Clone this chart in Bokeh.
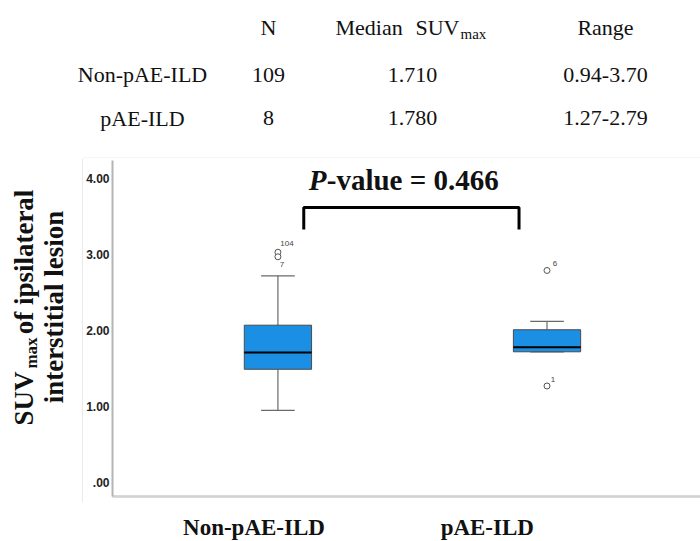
import math
from bokeh.plotting import figure
from bokeh.layouts import column, row
from bokeh.models import Range1d, FixedTicker, Label, LinearAxis, ColumnDataSource
from bokeh.embed import file_html
from bokeh.resources import INLINE

# ---------------- data ----------------
groups = ["Non-pAE-ILD", "pAE-ILD"]
n_counts = [109, 8]
median_suv = [1.710, 1.780]
range_min = [0.94, 1.27]
range_max = [3.70, 2.79]

# box plot statistics
q1 = [1.49, 1.72]
q3 = [2.07, 2.01]
whisker_low = [0.95, 1.72]
whisker_high = [2.72, 2.12]

outlier_group = [0, 0, 1, 1]
outlier_value = [3.03, 2.97, 2.79, 1.27]
outlier_id = ["104", "7", "6", "1"]

p_value = 0.466
y_ticks = [0, 1, 2, 3, 4]
y_tick_labels = [".00", "1.00", "2.00", "3.00", "4.00"]

# ---------------- style / layout ----------------
SERIF = "Liberation Serif"
SANS = "Liberation Sans"
BOX_FILL = "#1a8fe3"
AXIS_GREY = "#b4b4b4"
FRAME_GREY = "#d2d2d2"
INK = "#111111"
box_w = 0.25
cap_w = 0.125
label_shift = [-0.089, -0.222]          # category labels sit left of the boxes
id_dx = [9, 4, 8, 6]                     # outlier id offsets (px)
id_dy = [-9, 8, -7, -6]

xpos = [i + 1 for i in range(len(groups))]

W, H = 700, 541
TOP_H = 158
LEFT_W = 83
BOTTOM_H = 35
MAIN_H = H - TOP_H - BOTTOM_H


def blank(width, height, x_range, y_range, **kw):
    f = figure(width=width, height=height, output_backend="svg", toolbar_location=None, tools="",
               x_range=x_range, y_range=y_range, x_axis_location=None, y_axis_location=None,
               min_border=0, **kw)
    f.outline_line_color = None
    f.grid.visible = False
    return f


def txt(f, text, x, y, size, align="center", style="normal", angle=0.0, color=INK):
    f.add_layout(Label(x=x, y=y, text=text, text_font=SERIF, text_font_size=size,
                       text_font_style=style, text_align=align, text_baseline="middle",
                       text_color=color, angle=angle))


# ---------------- summary table (top strip, pixel coordinates) ----------------
top = blank(W, TOP_H, Range1d(0, W), Range1d(TOP_H, 0))
txt(top, "N", 268, 27, "22px")
txt(top, "Median", 335, 27, "22px", align="left")
txt(top, "SUV", 415, 27, "22px", align="left")
txt(top, "max", 460, 33, "15px", align="left")
txt(top, "Range", 605, 27, "22px")
for r, ry in enumerate([74, 117.5]):
    txt(top, groups[r], 142, ry, "22px")
    txt(top, str(n_counts[r]), 268, ry, "22px")
    txt(top, f"{median_suv[r]:.3f}", 412, ry, "22px")
    txt(top, f"{range_min[r]:.2f}-{range_max[r]:.2f}", 605, ry, "22px")
# faint top edge of the chart box
top.line(x=[82.5, 82.5, W], y=[TOP_H, 157.5, 157.5], line_color="#ededed", line_width=1)
top.line(x=[82.5, 82.5], y=[TOP_H, 157.5], line_color=FRAME_GREY, line_width=1)

# ---------------- y axis title strip ----------------
left = blank(LEFT_W, H - TOP_H, Range1d(0, LEFT_W), Range1d(H, TOP_H))
ang = math.pi / 2
txt(left, "SUV", 23, 398, "27px", style="bold", angle=ang)
txt(left, "max", 31, 352.5, "17px", style="bold", angle=ang)
txt(left, "of ipsilateral", 23, 261.5, "27px", style="bold", angle=ang)
txt(left, "interstitial lesion", 53, 306.5, "27px", style="bold", angle=ang)
left.line(x=[82.5, 82.5], y=[TOP_H, 501.5], line_color=FRAME_GREY, line_width=1)

# ---------------- main chart ----------------
x_range = Range1d(0.3852, 2.5704)
p = figure(width=W - LEFT_W, height=MAIN_H, output_backend="svg", toolbar_location=None, tools="",
           x_range=x_range, y_range=Range1d(-0.184, 4.237),
           x_axis_location=None, min_border_left=27, min_border_right=0,
           min_border_top=2, min_border_bottom=MAIN_H + TOP_H - 496)
p.outline_line_color = None
p.grid.visible = False

# y axis
p.yaxis.ticker = FixedTicker(ticks=y_ticks)
p.yaxis.major_label_overrides = dict(zip(y_ticks, y_tick_labels))
p.yaxis.major_tick_line_color = None
p.yaxis.minor_tick_line_color = None
p.yaxis.major_tick_out = 0
p.yaxis.major_tick_in = 0
p.yaxis.major_label_standoff = 3
p.yaxis.axis_line_color = AXIS_GREY
p.yaxis.axis_line_width = 2
p.yaxis.major_label_text_font = SANS
p.yaxis.major_label_text_font_style = "bold"
p.yaxis.major_label_text_font_size = "12px"
p.yaxis.major_label_text_color = "#222222"

# inner x axis line and the light outer box line below it
ax_in = LinearAxis(ticker=FixedTicker(ticks=[]), axis_line_color=AXIS_GREY, axis_line_width=2,
                   major_tick_line_color=None, minor_tick_line_color=None,
                   major_tick_out=5, major_tick_in=0, major_label_standoff=0)
p.add_layout(ax_in, "below")
ax_out = LinearAxis(ticker=FixedTicker(ticks=[]), axis_line_color=FRAME_GREY, axis_line_width=1,
                    major_tick_line_color=None, minor_tick_line_color=None,
                    major_tick_out=0, major_tick_in=0, major_label_standoff=0)
p.add_layout(ax_out, "below")

# ---------------- boxes ----------------
src = ColumnDataSource(dict(
    x=xpos, q1=q1, q3=q3, med=median_suv, lo=whisker_low, hi=whisker_high,
    xl=[x - box_w / 2 for x in xpos], xr=[x + box_w / 2 for x in xpos],
    cl=[x - cap_w / 2 for x in xpos], cr=[x + cap_w / 2 for x in xpos],
))
WH = dict(source=src, line_color="#6a6a6a", line_width=1.2)
p.segment(x0="x", x1="x", y0="q3", y1="hi", **WH)
p.segment(x0="x", x1="x", y0="q1", y1="lo", **WH)
p.segment(x0="cl", x1="cr", y0="hi", y1="hi", **WH)
p.segment(x0="cl", x1="cr", y0="lo", y1="lo", **WH)
p.vbar(x="x", width=box_w, bottom="q1", top="q3", source=src,
       fill_color=BOX_FILL, line_color="#4a4a4a", line_width=1)
p.segment(x0="xl", x1="xr", y0="med", y1="med", source=src, line_color="#000000", line_width=2)

# outliers
osrc = ColumnDataSource(dict(x=[xpos[g] for g in outlier_group], y=outlier_value, id=outlier_id))
p.scatter(x="x", y="y", source=osrc, marker="circle", size=6,
          fill_color="white", line_color="#555555", line_width=1)
for i in range(len(outlier_id)):
    p.add_layout(Label(x=xpos[outlier_group[i]], y=outlier_value[i], text=outlier_id[i],
                       x_offset=id_dx[i], y_offset=-id_dy[i],
                       text_font=SANS, text_font_size="8px", text_color="#444444",
                       text_align="center", text_baseline="middle"))

# bracket + p-value
bx0 = xpos[0] + 0.096
bx1 = xpos[1] - 0.104
p.line(x=[bx0, bx0, bx1, bx1], y=[3.33, 3.618, 3.618, 3.33], line_color="black", line_width=3)
p.add_layout(Label(x=xpos[0] + 0.1148, y=3.987, text="P", text_font=SERIF,
                   text_font_style="bold italic", text_font_size="29px", text_color=INK,
                   text_baseline="middle"))
p.add_layout(Label(x=xpos[0] + 0.1815, y=3.987, text=f"-value = {p_value:.3f}", text_font=SERIF,
                   text_font_style="bold", text_font_size="29px", text_color=INK,
                   text_baseline="middle"))

# ---------------- group names strip (shares the chart's x scale) ----------------
bottom = blank(W - LEFT_W, BOTTOM_H, x_range, Range1d(H, H - BOTTOM_H),
               min_border_left=27, min_border_right=0)
label_x = [xpos[i] + label_shift[i] for i in range(len(groups))]
for i, g in enumerate(groups):
    txt(bottom, g, label_x[i], 527, "23px", style="bold")

layout = column(top, row(left, column(p, bottom)))
open("out.html", "w").write(file_html(layout, INLINE))
